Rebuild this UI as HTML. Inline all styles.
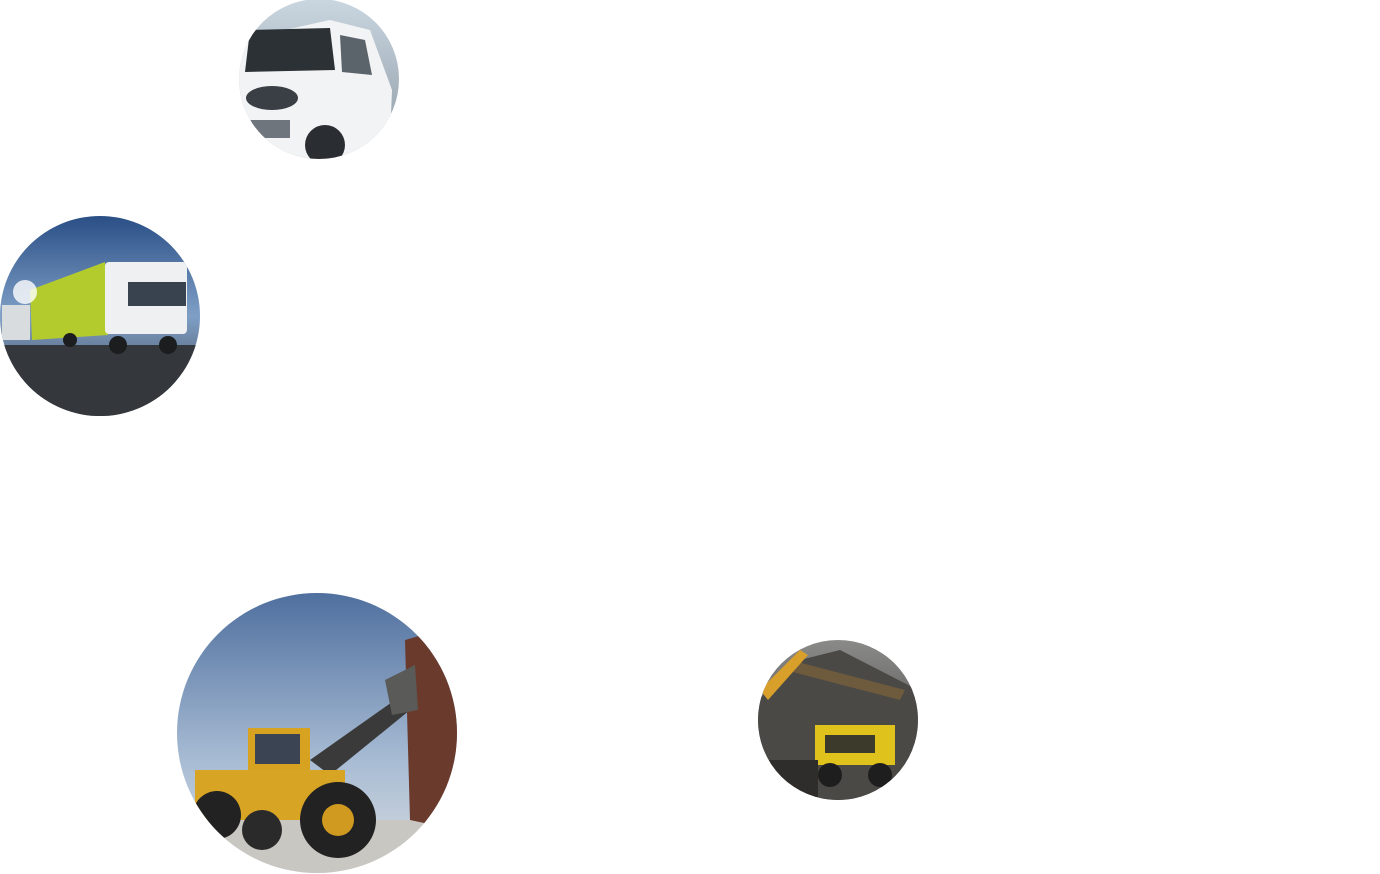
<!DOCTYPE html>
<html><head><meta charset="utf-8"><style>
html,body{margin:0;padding:0;background:#fff;width:1380px;height:874px;overflow:hidden}
svg{display:block}
</style></head><body>
<svg width="1380" height="874" viewBox="0 0 1380 874">
<defs>
<clipPath id="c1"><circle cx="319" cy="79" r="80"/></clipPath>
<clipPath id="c2"><circle cx="100" cy="316" r="100"/></clipPath>
<clipPath id="c3"><circle cx="317" cy="733" r="140"/></clipPath>
<clipPath id="c4"><circle cx="838" cy="720" r="80"/></clipPath>
<linearGradient id="sky1" x1="0" y1="0" x2="0" y2="1"><stop offset="0" stop-color="#c9d6e0"/><stop offset="1" stop-color="#8c98a3"/></linearGradient>
<linearGradient id="sky2" x1="0" y1="0" x2="0" y2="1"><stop offset="0" stop-color="#2a4f86"/><stop offset="0.5" stop-color="#7f9fc6"/><stop offset="1" stop-color="#3a3f47"/></linearGradient>
<linearGradient id="sky3" x1="0" y1="0" x2="0" y2="1"><stop offset="0" stop-color="#4f6f9e"/><stop offset="0.6" stop-color="#a8bcd4"/><stop offset="1" stop-color="#d8dcdf"/></linearGradient>
<linearGradient id="sky4" x1="0" y1="0" x2="0" y2="1"><stop offset="0" stop-color="#8a8a88"/><stop offset="1" stop-color="#3b3a38"/></linearGradient>
</defs>

<g clip-path="url(#c1)">
<rect x="239" y="0" width="160" height="160" fill="url(#sky1)"/>
<path d="M239 40 L330 20 L370 30 L392 90 L390 140 L340 160 L239 160 Z" fill="#f2f3f4"/>
<path d="M250 30 L330 28 L335 70 L245 72 Z" fill="#2c3136"/>
<path d="M340 35 L365 40 L372 75 L342 72 Z" fill="#5b636b"/>
<ellipse cx="272" cy="98" rx="26" ry="12" fill="#3a3f45"/>
<circle cx="325" cy="145" r="20" fill="#2a2d31"/>
<rect x="250" y="120" width="40" height="18" fill="#6e757c"/>
</g>

<g clip-path="url(#c2)">
<rect x="0" y="216" width="200" height="200" fill="url(#sky2)"/>
<rect x="0" y="345" width="200" height="71" fill="#34383d"/>
<path d="M30 290 L105 262 L108 335 L32 340 Z" fill="#b4cb2e"/>
<rect x="105" y="262" width="82" height="72" rx="4" fill="#eef0f2"/>
<rect x="128" y="282" width="58" height="24" fill="#39434f"/>
<circle cx="118" cy="345" r="9" fill="#1c1d1f"/>
<circle cx="168" cy="345" r="9" fill="#1c1d1f"/>
<circle cx="70" cy="340" r="7" fill="#1c1d1f"/>
<rect x="2" y="305" width="28" height="35" fill="#d9dcdf"/>
<circle cx="25" cy="292" r="12" fill="#ffffff" opacity="0.8"/>
</g>

<g clip-path="url(#c3)">
<rect x="177" y="593" width="280" height="281" fill="url(#sky3)"/>
<rect x="177" y="820" width="280" height="54" fill="#c9c7c2"/>
<path d="M405 640 L457 625 L457 830 L410 820 Z" fill="#6a3a2c"/>
<path d="M310 760 L395 700 L410 710 L330 775 Z" fill="#3a3a3a"/>
<path d="M385 680 L415 665 L418 710 L392 715 Z" fill="#5a5a58"/>
<rect x="248" y="728" width="62" height="50" fill="#d6a21f"/>
<rect x="255" y="734" width="45" height="30" fill="#3b4452"/>
<rect x="195" y="770" width="150" height="50" fill="#d8a424"/>
<circle cx="338" cy="820" r="38" fill="#222"/>
<circle cx="338" cy="820" r="16" fill="#d09a20"/>
<circle cx="217" cy="815" r="24" fill="#222"/>
<circle cx="262" cy="830" r="20" fill="#2a2a2a"/>
</g>

<g clip-path="url(#c4)">
<rect x="758" y="640" width="160" height="161" fill="url(#sky4)"/>
<path d="M758 700 L800 660 L840 650 L918 690 L918 801 L758 801 Z" fill="#4a4946"/>
<path d="M790 660 L905 690 L900 700 L785 670 Z" fill="#6e5b3d"/>
<path d="M760 690 L800 650 L808 655 L768 700 Z" fill="#d8a02a"/>
<rect x="815" y="725" width="80" height="40" fill="#e0c21c"/>
<rect x="825" y="735" width="50" height="18" fill="#3c3a2a"/>
<circle cx="830" cy="775" r="12" fill="#1e1e1e"/>
<circle cx="880" cy="775" r="12" fill="#1e1e1e"/>
<rect x="758" y="760" width="60" height="41" fill="#2e2d2b"/>
</g>
</svg>
</body></html>
